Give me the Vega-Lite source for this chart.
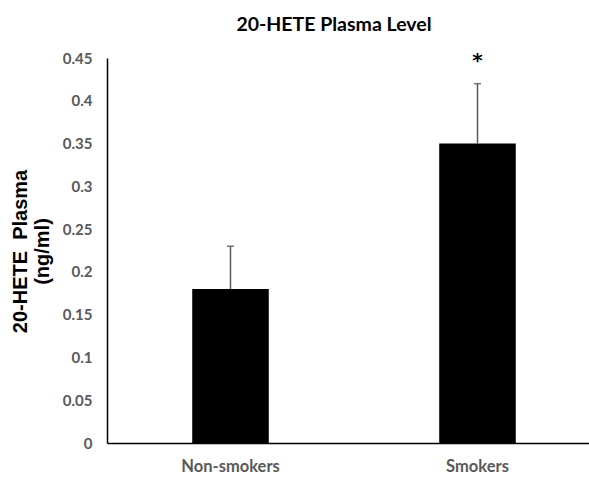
{
  "$schema": "https://vega.github.io/schema/vega-lite/v6.json",
  "width": 494,
  "height": 385,
  "autosize": {"type": "none"},
  "padding": {"left": 107, "top": 58, "right": 0, "bottom": 35},
  "background": "white",
  "title": {
    "text": "20-HETE Plasma Level",
    "font": "Lato",
    "fontSize": 19.5,
    "fontWeight": "bold",
    "color": "#000000",
    "dx": -20,
    "offset": 0,
    "baseline": "alphabetic"
  },
  "config": {"view": {"stroke": null}},
  "data": {
    "values": [
      {"group": "Non-smokers", "mean": 0.18, "upper": 0.23, "sig": ""},
      {"group": "Smokers", "mean": 0.35, "upper": 0.42, "sig": "*"}
    ]
  },
  "encoding": {
    "x": {
      "field": "group",
      "type": "nominal",
      "sort": null,
      "scale": {"paddingInner": 0, "paddingOuter": 0},
      "axis": {
        "title": null,
        "labelAngle": 0,
        "labelFont": "Lato",
        "labelFontSize": 16.5,
        "labelFontWeight": "bold",
        "labelColor": "#595959",
        "labelPadding": 15,
        "ticks": false,
        "domainColor": "#000000",
        "domainWidth": 1.5
      }
    }
  },
  "layer": [
    {
      "mark": {"type": "bar", "color": "#000000", "width": {"band": 0.31}},
      "encoding": {
        "y": {
          "field": "mean",
          "type": "quantitative",
          "scale": {"domain": [0, 0.45], "nice": false},
          "axis": {
            "values": [0, 0.05, 0.1, 0.15, 0.2, 0.25, 0.3, 0.35, 0.4, 0.45],
            "format": "~g",
            "grid": false,
            "ticks": false,
            "labelFont": "Lato",
            "labelFontSize": 15,
            "labelFontWeight": "bold",
            "labelColor": "#595959",
            "labelPadding": 15,
            "domainColor": "#000000",
            "domainWidth": 1.5,
            "title": ["20-HETE\u00a0 Plasma", "(ng/ml)"],
            "titleFont": "Liberation Sans",
            "titleFontSize": 20,
            "titleFontWeight": "bold",
            "titleColor": "#000000",
            "titleLineHeight": 22,
            "titleX": -77,
            "titleY": 193
          }
        }
      }
    },
    {
      "mark": {"type": "rule", "color": "#595959", "strokeWidth": 1.5},
      "encoding": {
        "y": {"field": "mean", "type": "quantitative"},
        "y2": {"field": "upper"}
      }
    },
    {
      "mark": {"type": "tick", "color": "#404040", "size": 7, "thickness": 1.5, "orient": "horizontal"},
      "encoding": {
        "y": {"field": "upper", "type": "quantitative"}
      }
    },
    {
      "mark": {"type": "text", "fontSize": 20, "font": "DejaVu Sans", "fontWeight": "bold", "color": "#000000", "baseline": "alphabetic", "dy": -17},
      "encoding": {
        "y": {"field": "upper", "type": "quantitative"},
        "text": {"field": "sig"}
      }
    }
  ]
}
